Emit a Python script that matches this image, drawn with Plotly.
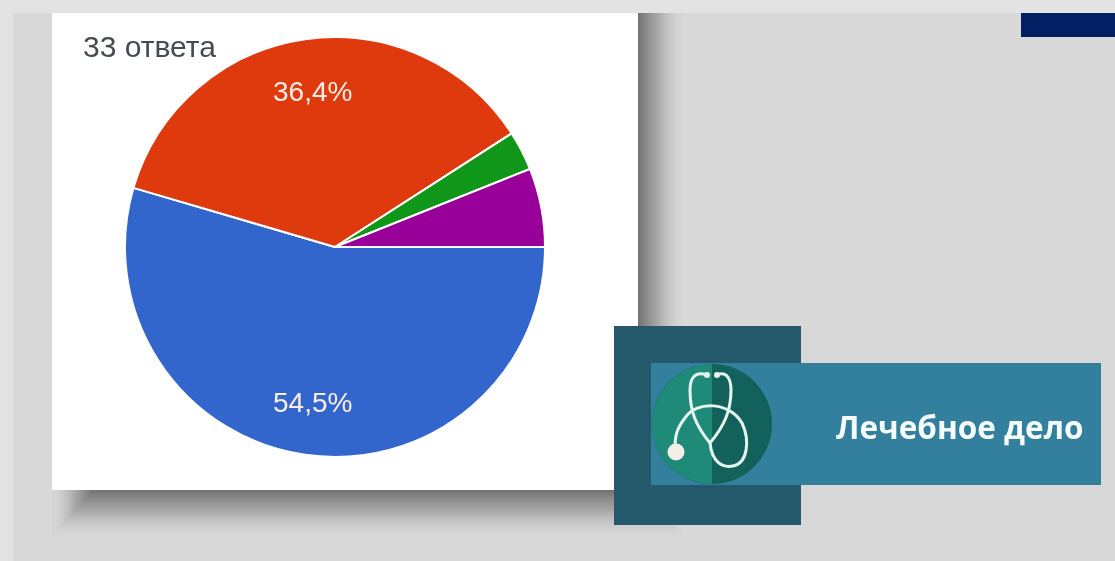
import math
import plotly.graph_objects as go

W, H = 1115, 561

answers = ["Вариант 1", "Вариант 2", "Вариант 3", "Вариант 4"]
counts = [18, 12, 1, 2]
slice_text = ["54,5%", "36,4%", "", ""]
slice_colors = ["#3366cc", "#df3a0e", "#109618", "#990099"]
caption = "33 ответа"
banner_title = "Лечебное дело"

PIE_CX, PIE_CY, PIE_R = 335, 247, 210


def X(p):
    return p / W


def Y(p):
    return 1 - p / H


def rect(x0, y0, x1, y1, color, opacity=1.0):
    return dict(type="rect", xref="paper", yref="paper", x0=X(x0), x1=X(x1), y0=Y(y0), y1=Y(y1),
                fillcolor=color, opacity=opacity, line_width=0, layer="below")


def pth(d, fill=None, stroke=None, width=0):
    return dict(type="path", xref="x", yref="y", path=d, fillcolor=fill or "rgba(0,0,0,0)",
                line=dict(color=stroke or "rgba(0,0,0,0)", width=width), layer="above")


def dot(cx, cy, r, fill):
    return dict(type="circle", xref="x", yref="y", x0=cx - r, x1=cx + r, y0=cy - r, y1=cy + r,
                fillcolor=fill, line_width=0, layer="above")


shapes = [
    rect(0, 0, W, H, "#e3e3e3"),
    rect(13, 13, W, H, "#d8d8d8"),
]

# soft drop shadow behind the white panel
n = 44
for i in range(n):
    t = (i / (n - 1)) ** 0.6
    shapes.append(rect(52 + 42 * t, 13, 682 - 44 * t, 536 - 46 * t, "#000000", 0.0105))

shapes += [
    rect(52, 13, 638, 490, "#ffffff"),
    rect(1021, 13, W, 37, "#031f63"),
    rect(614, 326, 801, 525, "#24596b"),
    rect(651, 363, 1101, 485, "#32809e"),
]

layout_shapes = shapes + [
    dot(712, 424, 60, "#12615a"),
    pth("M 712 364 C 679 364 652 391 652 424 C 652 457 679 484 712 484 Z", fill="#1f8a78"),
    pth("M 707 375 C 695 371 690 378 690 390 C 690 410 695 425 710 443 "
        "C 725 425 731 410 731 390 C 731 378 726 371 717 375",
        stroke="#e6f5f0", width=3),
    pth("M 710 443 C 712 462 722 468 733 466 C 748 463 750 440 742 423 "
        "C 730 402 697 400 685 418 C 676 429 675 438 675 448",
        stroke="#e6f5f0", width=3),
    dot(676, 452, 8.5, "#f3efe6"),
    dot(707, 375, 3, "#e6f5f0"),
    dot(717, 375, 3, "#e6f5f0"),
]

# slice labels sit at 3/4 of the radius on each slice's mid angle
total = sum(counts)
start = 0.0
label_notes = []
for value, label in zip(counts, slice_text):
    mid = start + value / total * 360 / 2
    start += value / total * 360
    if label:
        label_notes.append(dict(
            text=label, xref="paper", yref="paper",
            x=X(PIE_CX + 0.75 * PIE_R * math.cos(math.radians(mid))),
            y=Y(PIE_CY + 0.75 * PIE_R * math.sin(math.radians(mid))),
            xanchor="center", yanchor="middle", showarrow=False,
            font=dict(family="Liberation Sans", size=28, color="#fbeee8"),
        ))

fig = go.Figure(go.Pie(
    labels=answers,
    values=counts,
    textinfo="none",
    sort=False,
    direction="clockwise",
    rotation=90,
    marker=dict(colors=slice_colors, line=dict(color="#ffffff", width=2)),
    domain=dict(x=[X(PIE_CX - PIE_R), X(PIE_CX + PIE_R)], y=[Y(PIE_CY + PIE_R), Y(PIE_CY - PIE_R)]),
    hoverinfo="skip",
    showlegend=False,
))

fig.update_layout(
    width=W, height=H,
    margin=dict(l=0, r=0, t=0, b=0),
    paper_bgcolor="#e3e3e3",
    plot_bgcolor="rgba(0,0,0,0)",
    shapes=layout_shapes,
    xaxis=dict(visible=False, range=[0, W], domain=[0, 1], fixedrange=True),
    yaxis=dict(visible=False, range=[H, 0], domain=[0, 1], fixedrange=True),
    annotations=label_notes + [
        dict(text=caption, xref="paper", yref="paper", x=X(81), y=Y(46), xanchor="left", yanchor="middle",
             showarrow=False, font=dict(family="Liberation Sans", size=30, color="#454b52")),
        dict(text="<b>" + banner_title + "</b>", xref="paper", yref="paper", x=X(959), y=Y(426),
             xanchor="center", yanchor="middle", showarrow=False,
             font=dict(family="Open Sans", size=31.5, color="#f6fbfc")),
    ],
)

fig.write_html("out.html", config=dict(displayModeBar=False),
               post_script="document.body.style.margin='0';document.body.style.overflow='hidden';"
                           "document.body.style.background='#e3e3e3';"
                           "document.querySelector('.plotly-graph-div').style.filter='blur(0.6px)';")
